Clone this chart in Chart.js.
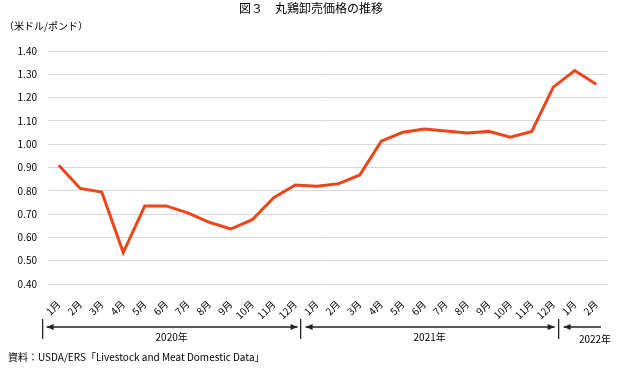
<!DOCTYPE html>
<html>
<head>
<meta charset="utf-8">
<script src="https://cdn.jsdelivr.net/npm/chart.js@4/dist/chart.umd.min.js"></script>
<style>
  body { margin: 0; background: #fff; font-family: "Noto Sans CJK JP", sans-serif; }
  #wrap { position: relative; width: 622px; height: 375px; }
  .txt { position: absolute; color: #000; white-space: nowrap; line-height: 1; }
  #title { left: 0; width: 622px; top: 2px; text-align: center; font-size: 12px; }
  #unit { left: 4px; top: 21px; font-size: 10px; }
  #source { left: 8px; top: 352px; font-size: 10px; }
</style>
</head>
<body>
<div id="wrap">
  <canvas id="chart" width="622" height="375"></canvas>
  <div id="title" class="txt">図３　丸鶏卸売価格の推移</div>
  <div id="unit" class="txt">（米ドル/ポンド）</div>
  <div id="source" class="txt">資料：USDA/ERS「Livestock and Meat Domestic Data」</div>
</div>
<script>
const months = [
  "1月", "2月", "3月", "4月", "5月", "6月", "7月", "8月", "9月", "10月", "11月", "12月",
  "1月", "2月", "3月", "4月", "5月", "6月", "7月", "8月", "9月", "10月", "11月", "12月",
  "1月", "2月"
]
const prices = [
  0.91, 0.81, 0.795, 0.535, 0.735, 0.735, 0.705, 0.665, 0.636, 0.676, 0.77, 0.825,
  0.82, 0.83, 0.868, 1.013, 1.051, 1.065, 1.057, 1.048, 1.055, 1.03, 1.055, 1.245,
  1.316, 1.257
]
const years = ["2020年", "2021年", "2022年"]
const yearStart = [0, 12, 24]

const LINE = "#f0441a"
const FONT = "'Noto Sans CJK JP', sans-serif"

// year brackets under the month labels
const yearBrackets = {
  id: "yearBrackets",
  afterDraw(chart) {
    const ctx = chart.ctx
    const x = chart.scales.x
    const step = x.getPixelForValue(1) - x.getPixelForValue(0)
    const edge = i => x.getPixelForValue(i) - step * 0.75
    const yLine = 327

    const arrow = (px, dir) => {
      ctx.beginPath()
      ctx.moveTo(px, yLine)
      ctx.lineTo(px + dir * 7, yLine - 3)
      ctx.lineTo(px + dir * 7, yLine + 3)
      ctx.closePath()
      ctx.fill()
    }

    ctx.save()
    ctx.strokeStyle = "#222"
    ctx.fillStyle = "#222"
    ctx.lineWidth = 1.3
    const bounds = [edge(0), edge(12), edge(24)]
    bounds.forEach(b => {
      ctx.beginPath()
      ctx.moveTo(b, 319)
      ctx.lineTo(b, 339)
      ctx.stroke()
    })

    const spans = [
      [bounds[0] + 4, bounds[1] - 3, true],
      [bounds[1] + 5, bounds[2] - 4, true],
      [bounds[2] + 5, 601, false]
    ]
    spans.forEach(([a, b, both]) => {
      ctx.beginPath()
      ctx.moveTo(a, yLine)
      ctx.lineTo(b, yLine)
      ctx.stroke()
      arrow(a, 1)
      if (both) arrow(b, -1)
    })

    ctx.fillStyle = "#000"
    ctx.font = "10px " + FONT
    ctx.textAlign = "center"
    ctx.textBaseline = "middle"
    ctx.fillText(years[0], (bounds[0] + bounds[1]) / 2, 337)
    ctx.fillText(years[1], (bounds[1] + bounds[2]) / 2, 337)
    ctx.fillText(years[2], 595, 339)
    ctx.restore()
  }
}

new Chart(document.getElementById("chart"), {
  type: "line",
  data: {
    labels: months,
    datasets: [{
      data: prices,
      borderColor: LINE,
      borderWidth: 3,
      pointRadius: 0,
      tension: 0,
      fill: false
    }]
  },
  options: {
    responsive: false,
    animation: false,
    layout: { padding: { top: 51, right: 15, left: 0, bottom: 0 } },
    plugins: { legend: { display: false }, tooltip: { enabled: false } },
    scales: {
      x: {
        offset: true,
        grid: { display: false },
        border: { display: false },
        ticks: {
          color: "#000",
          font: { family: FONT, size: 10 },
          minRotation: 45,
          maxRotation: 45,
          autoSkip: false,
          padding: 6
        },
        afterFit(scale) { scale.height = 91 }
      },
      y: {
        min: 0.4,
        max: 1.4,
        border: { display: false },
        grid: { color: "#d9d9d9", drawTicks: false, lineWidth: 1 },
        ticks: {
          stepSize: 0.1,
          color: "#000",
          padding: 11,
          font: { family: FONT, size: 10 },
          callback: v => v.toFixed(2)
        },
        afterFit(scale) { scale.width = 48 }
      }
    }
  },
  plugins: [yearBrackets]
})
</script>
</body>
</html>
